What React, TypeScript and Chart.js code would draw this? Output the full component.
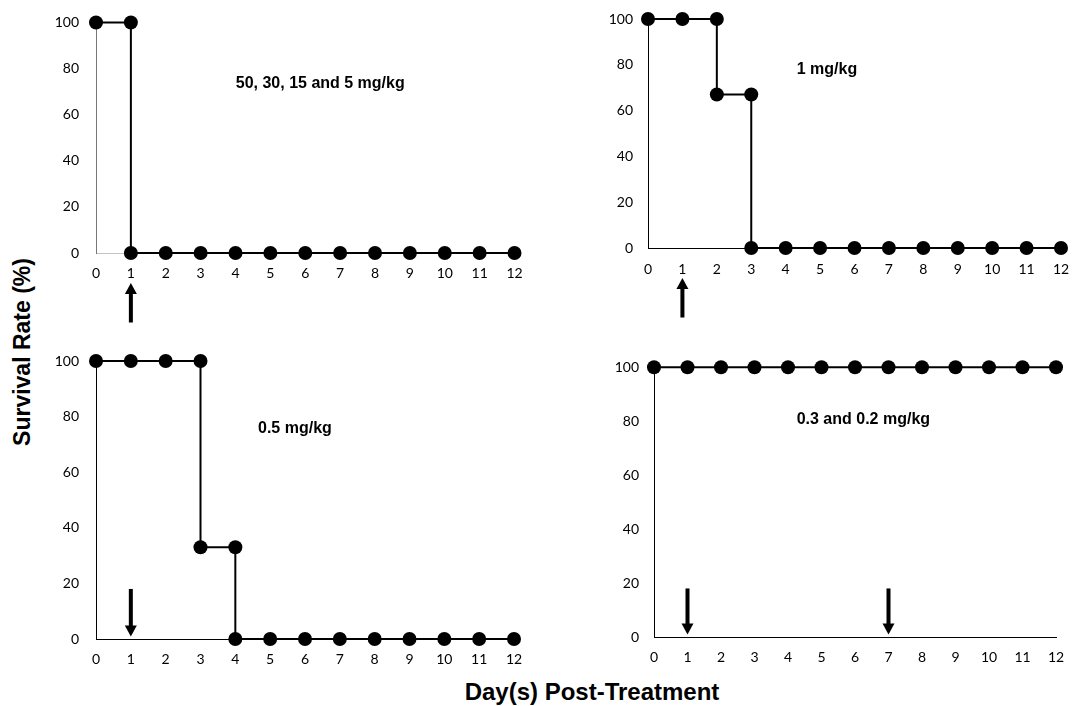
import React, { useEffect, useRef } from 'react';
import { Chart, registerables } from 'chart.js';

Chart.register(...registerables);

// ---------- data ----------
const dayTicks = [0, 1, 2, 3, 4, 5, 6, 7, 8, 9, 10, 11, 12];
const survivalTicks = [0, 20, 40, 60, 80, 100];

const p1Days = [0, 1, 1, 2, 3, 4, 5, 6, 7, 8, 9, 10, 11, 12];
const p1Survival = [100, 100, 0, 0, 0, 0, 0, 0, 0, 0, 0, 0, 0, 0];

const p2Days = [0, 1, 2, 2, 3, 3, 4, 5, 6, 7, 8, 9, 10, 11, 12];
const p2Survival = [100, 100, 100, 67, 67, 0, 0, 0, 0, 0, 0, 0, 0, 0, 0];

const p3Days = [0, 1, 2, 3, 3, 4, 4, 5, 6, 7, 8, 9, 10, 11, 12];
const p3Survival = [100, 100, 100, 100, 33, 33, 0, 0, 0, 0, 0, 0, 0, 0, 0];

const p4Days = [0, 1, 2, 3, 4, 5, 6, 7, 8, 9, 10, 11, 12];
const p4Survival = [100, 100, 100, 100, 100, 100, 100, 100, 100, 100, 100, 100, 100];

const p1ArrowDays = [1];
const p2ArrowDays = [1];
const p3ArrowDays = [1];
const p4ArrowDays = [1, 7];

const doseLabels = ['50, 30, 15 and 5 mg/kg', '1 mg/kg', '0.5 mg/kg', '0.3 and 0.2 mg/kg'];

const yTitle = 'Survival Rate (%)';
const xTitle = 'Day(s) Post-Treatment';

// ---------- layout / style ----------
const YW = 45;
const XH = 30;
const PADL = 5;
const PADT = 10;
const PADR = 14;

type Panel = {
  days: number[];
  survival: number[];
  arrows: number[];
  arrowDir: 'up' | 'down';
  label: string;
  labelX: number;
  labelY: number;
  area: { l: number; t: number; r: number; b: number };
  padB: number;
  xBorder: string;
  yBorder: string;
  yPad: number;
  xPad: number;
};

const panels: Panel[] = [
  {
    days: p1Days, survival: p1Survival, arrows: p1ArrowDays, arrowDir: 'up',
    label: doseLabels[0], labelX: 6.43, labelY: 73.3,
    area: { l: 96, t: 22.5, r: 514.5, b: 253 }, padB: 50,
    xBorder: '#c4c4c4', yBorder: '#777777', yPad: 17, xPad: 12,
  },
  {
    days: p2Days, survival: p2Survival, arrows: p2ArrowDays, arrowDir: 'up',
    label: doseLabels[1], labelX: 5.2, labelY: 78.1,
    area: { l: 648, t: 19, r: 1061, b: 248 }, padB: 50,
    xBorder: '#000000', yBorder: '#000000', yPad: 15, xPad: 13,
  },
  {
    days: p3Days, survival: p3Survival, arrows: p3ArrowDays, arrowDir: 'down',
    label: doseLabels[2], labelX: 5.71, labelY: 75.8,
    area: { l: 96, t: 361, r: 514, b: 639 }, padB: 0,
    xBorder: '#000000', yBorder: '#000000', yPad: 17, xPad: 12,
  },
  {
    days: p4Days, survival: p4Survival, arrows: p4ArrowDays, arrowDir: 'down',
    label: doseLabels[3], labelX: 6.25, labelY: 80.6,
    area: { l: 654, t: 367.3, r: 1056, b: 637 }, padB: 0,
    xBorder: '#000000', yBorder: '#000000', yPad: 15, xPad: 12,
  },
];

const tickFont = { family: 'Lato, "Open Sans", sans-serif', size: 14 };
const boldFamily = '"Liberation Sans", Arial, Helvetica, sans-serif';

const overlayPlugin = {
  id: 'overlay',
  afterDraw(chart: any) {
    const p: Panel = chart.options.plugins.overlay.panel;
    const ctx = chart.ctx;
    const xs = chart.scales.x;
    const ys = chart.scales.y;
    const area = chart.chartArea;
    ctx.save();
    // dose label
    ctx.fillStyle = '#000';
    ctx.font = `bold 16px ${boldFamily}`;
    ctx.textAlign = 'center';
    ctx.textBaseline = 'middle';
    ctx.fillText(p.label, xs.getPixelForValue(p.labelX), ys.getPixelForValue(p.labelY));
    // arrows
    const shaftW = 4;
    const headW = 12;
    const headH = 11;
    p.arrows.forEach((d) => {
      const x = xs.getPixelForValue(d);
      let tipY: number, tailY: number;
      if (p.arrowDir === 'up') {
        tipY = area.bottom + 30;
        tailY = area.bottom + 69.5;
        ctx.fillRect(x - shaftW / 2, tipY + headH - 1, shaftW, tailY - (tipY + headH - 1));
        ctx.beginPath();
        ctx.moveTo(x, tipY);
        ctx.lineTo(x - headW / 2, tipY + headH);
        ctx.lineTo(x + headW / 2, tipY + headH);
        ctx.closePath();
        ctx.fill();
      } else {
        tailY = ys.getPixelForValue(18);
        tipY = ys.getPixelForValue(0) - 2.5;
        ctx.fillRect(x - shaftW / 2, tailY, shaftW, tipY - headH + 1 - tailY);
        ctx.beginPath();
        ctx.moveTo(x, tipY);
        ctx.lineTo(x - headW / 2, tipY - headH);
        ctx.lineTo(x + headW / 2, tipY - headH);
        ctx.closePath();
        ctx.fill();
      }
    });
    ctx.restore();
  },
};

function canvasRect(p: Panel) {
  const left = p.area.l - PADL - YW;
  const top = Math.floor(p.area.t - PADT);
  const padT = p.area.t - top;
  const width = PADL + YW + (p.area.r - p.area.l) + PADR;
  const height = Math.round(padT + (p.area.b - p.area.t) + XH + p.padB);
  const padB = height - padT - (p.area.b - p.area.t) - XH;
  const padR = PADR + (Math.ceil(width) - width);
  return { left, top, width: Math.ceil(width), height, padT, padB, padR };
}

function PanelChart({ p }: { p: Panel }) {
  const ref = useRef<HTMLCanvasElement | null>(null);
  const rect = canvasRect(p);
  useEffect(() => {
    if (!ref.current) return;
    const chart = new Chart(ref.current, {
      type: 'line',
      data: {
        datasets: [
          {
            data: p.days.map((d, i) => ({ x: d, y: p.survival[i] })),
            borderColor: '#000',
            borderWidth: 2,
            backgroundColor: '#000',
            pointBackgroundColor: '#000',
            pointBorderColor: '#000',
            pointBorderWidth: 0,
            pointRadius: 7,
            pointHoverRadius: 7,
            tension: 0,
            fill: false,
            clip: false,
          } as any,
        ],
      },
      options: {
        animation: false,
        responsive: false,
        devicePixelRatio: 1,
        events: [],
        layout: { padding: { left: PADL, top: rect.padT, right: rect.padR, bottom: rect.padB } },
        plugins: {
          legend: { display: false },
          tooltip: { enabled: false },
          overlay: { panel: p },
        } as any,
        scales: {
          x: {
            type: 'linear',
            min: 0,
            max: 12,
            afterBuildTicks: (s: any) => {
              s.ticks = dayTicks.map((v) => ({ value: v }));
            },
            afterFit: (s: any) => {
              s.height = XH;
              s.paddingLeft = 0;
              s.paddingRight = 0;
            },
            grid: { display: false, drawTicks: false },
            border: { display: true, color: p.xBorder, width: 1 },
            ticks: { font: tickFont, color: '#000', padding: p.xPad, autoSkip: false, maxRotation: 0 },
          },
          y: {
            type: 'linear',
            min: 0,
            max: 100,
            afterBuildTicks: (s: any) => {
              s.ticks = survivalTicks.map((v) => ({ value: v }));
            },
            afterFit: (s: any) => {
              s.width = YW;
              s.paddingTop = 0;
              s.paddingBottom = 0;
            },
            grid: { display: false, drawTicks: false },
            border: { display: true, color: p.yBorder, width: 1 },
            ticks: { font: tickFont, color: '#000', padding: p.yPad },
          },
        },
      },
      plugins: [overlayPlugin],
    });
    return () => chart.destroy();
  }, []);
  return (
    <canvas
      ref={ref}
      width={rect.width}
      height={rect.height}
      style={{ position: 'absolute', left: rect.left, top: rect.top, width: rect.width, height: rect.height }}
    />
  );
}

export default function App() {
  return (
    <div style={{ position: 'absolute', left: 0, top: 0, width: 1084, height: 706, background: '#fff', overflow: 'hidden' }}>
      {panels.map((p, i) => (
        <PanelChart key={i} p={p} />
      ))}
      <div
        style={{
          position: 'absolute',
          left: 22,
          top: 352,
          transform: 'translate(-50%, -50%) rotate(-90deg)',
          fontFamily: boldFamily,
          fontWeight: 'bold',
          fontSize: 23,
          whiteSpace: 'nowrap',
          color: '#000',
          lineHeight: 1,
        }}
      >
        {yTitle}
      </div>
      <div
        style={{
          position: 'absolute',
          left: 592,
          top: 692,
          transform: 'translate(-50%, -50%)',
          fontFamily: boldFamily,
          fontWeight: 'bold',
          fontSize: 24,
          whiteSpace: 'nowrap',
          color: '#000',
          lineHeight: 1,
        }}
      >
        {xTitle}
      </div>
    </div>
  );
}
